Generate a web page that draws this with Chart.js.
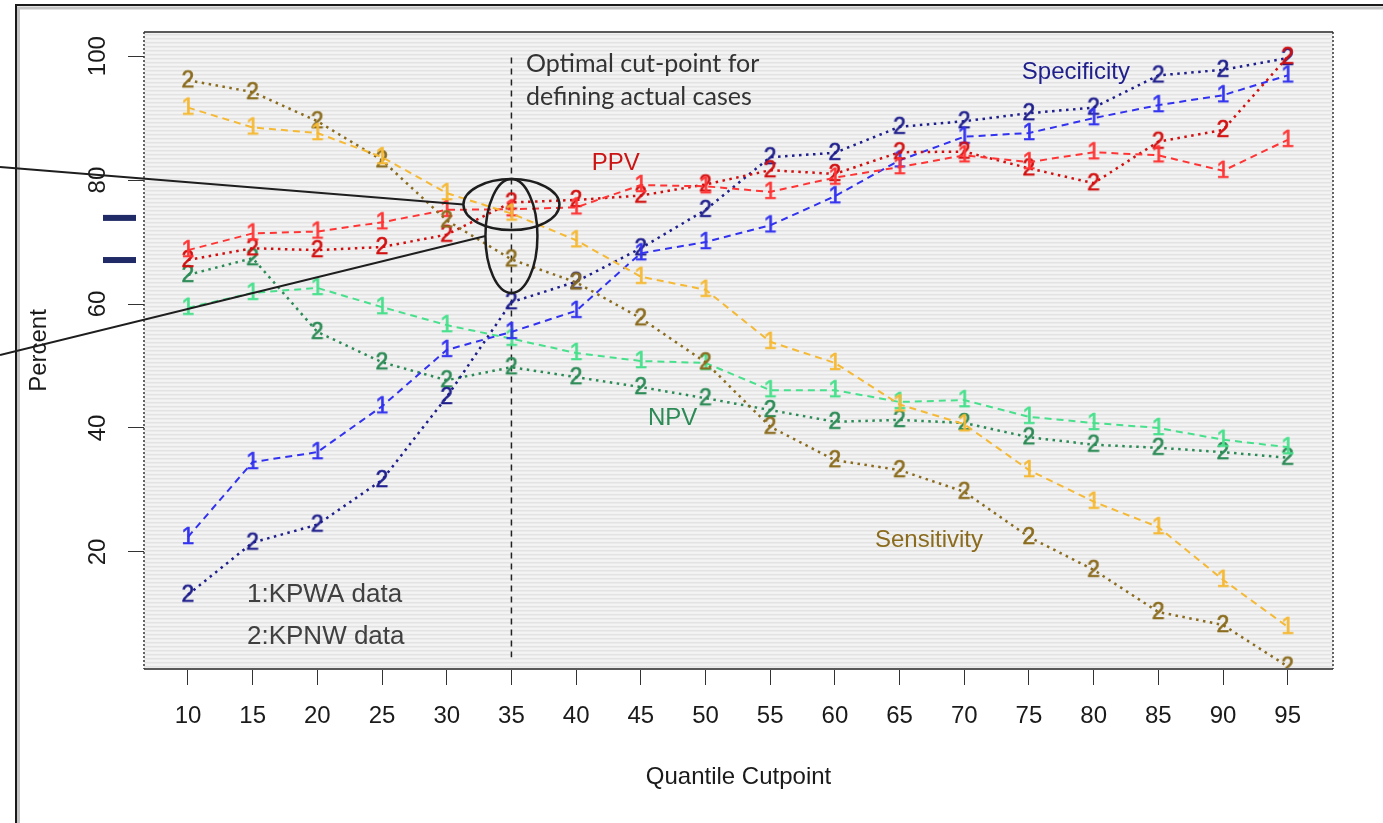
<!DOCTYPE html>
<html>
<head>
<meta charset="utf-8">
<title>Quantile Cutpoint</title>
<script src="https://cdn.jsdelivr.net/npm/chart.js@4.4.1/dist/chart.umd.min.js"></script>
<style>
    html, body { margin: 0; padding: 0; background: #fff; }
    #wrap { width: 1383px; height: 823px; }
</style>
</head>
<body>
<div id="wrap"><canvas id="cutChart" width="1383" height="823"></canvas></div>
<script>
// 컷포인트 (x축)
const cutpoints = [10, 15, 20, 25, 30, 35, 40, 45, 50, 55, 60, 65, 70, 75, 80, 85, 90, 95];
const yTicks = [20, 40, 60, 80, 100];

// 1: KPWA, 2: KPNW
const sens1 = [91.7, 88.5, 87.6, 83.7, 77.9, 74.6, 70.3, 64.4, 62.3, 53.9, 50.5, 43.8, 40.6, 33.2, 28.1, 24.0, 15.5, 7.9];
const sens2 = [96.1, 94.2, 89.5, 83.2, 73.5, 67.2, 63.5, 57.7, 50.6, 40.2, 34.8, 33.2, 29.7, 22.4, 17.1, 10.3, 8.2, 1.5];
const ppv1 = [68.7, 71.4, 71.7, 73.2, 75.2, 75.3, 75.6, 79.2, 79.0, 78.1, 80.4, 82.1, 84.0, 82.9, 84.5, 84.0, 81.5, 86.5];
const ppv2 = [67.1, 69.0, 68.7, 69.2, 71.2, 76.4, 76.8, 77.5, 79.3, 81.6, 81.0, 84.5, 84.6, 81.9, 79.5, 86.2, 88.1, 99.9];
const spec1 = [22.4, 34.5, 36.1, 43.5, 52.6, 55.5, 58.9, 68.2, 70.0, 72.7, 77.4, 83.2, 87.0, 87.6, 90.0, 92.1, 93.7, 96.9];
const spec2 = [13.1, 21.5, 24.4, 31.6, 45.0, 60.3, 63.6, 69.0, 75.2, 83.7, 84.4, 88.6, 89.5, 90.8, 91.7, 96.9, 97.8, 99.7];
const npv1 = [59.4, 61.8, 62.6, 59.5, 56.6, 54.4, 52.1, 50.8, 50.5, 46.1, 46.1, 44.2, 44.5, 41.8, 40.8, 40.0, 38.1, 36.9];
const npv2 = [64.7, 67.4, 55.5, 50.6, 47.7, 49.8, 48.2, 46.6, 44.8, 42.9, 41.0, 41.3, 40.8, 38.5, 37.3, 36.8, 36.1, 35.2];

const AXIS_FONT = '"Liberation Sans", Arial, sans-serif';

// 숫자 문자("1", "2")를 포인트 마커로 사용
function makeMarker(ch, color) {
    const c = document.createElement('canvas');
    c.width = 20;
    c.height = 26;
    const g = c.getContext('2d');
    g.font = '23px ' + AXIS_FONT;
    g.fillStyle = color;
    g.strokeStyle = color;
    g.lineWidth = 0.6;
    g.textAlign = 'center';
    g.textBaseline = 'middle';
    g.fillText(ch, 10, 14);
    g.strokeText(ch, 10, 14);
    return c;
}

function series(label, values, color, mark, dotted) {
    return {
        label: label,
        data: cutpoints.map((c, i) => ({ x: c, y: values[i] })),
        borderColor: color,
        backgroundColor: color,
        borderWidth: dotted ? 2.5 : 2,
        borderDash: dotted ? [2.5, 4.5] : [7, 5],
        fill: false,
        tension: 0,
        pointStyle: makeMarker(mark, color),
        pointRadius: 9,
        clip: 0
    };
}

// 배경 줄무늬 패턴
function stripePattern(ctx) {
    const p = document.createElement('canvas');
    p.width = 4;
    p.height = 4;
    const g = p.getContext('2d');
    const rows = ['#f4f4f4', '#f2f2f2', '#e3e3e3', '#ebebeb'];
    rows.forEach((col, i) => { g.fillStyle = col; g.fillRect(0, i, 4, 1); });
    return ctx.createPattern(p, 'repeat');
}

const labels = [
    { text: 'Specificity', x: 74.45, y: 97.4, color: '#1e1e8c', size: 24 },
    { text: 'PPV', x: 41.2, y: 82.7, color: '#cc1414', size: 24 },
    { text: 'NPV', x: 45.55, y: 41.6, color: '#2b8a55', size: 24 },
    { text: 'Sensitivity', x: 63.1, y: 21.9, color: '#8b6c1e', size: 24 },
    { text: '1:KPWA data', x: 14.56, y: 13.1, color: '#404040', size: 26 },
    { text: '2:KPNW data', x: 14.56, y: 6.3, color: '#404040', size: 26 }
];

const plotDecor = {
    id: 'plotDecor',
    beforeDraw(chart) {
        const { ctx, chartArea: a } = chart;
        ctx.save();
        ctx.fillStyle = '#fff';
        ctx.fillRect(0, 0, chart.width, chart.height);
        ctx.fillStyle = stripePattern(ctx);
        ctx.fillRect(a.left, a.top, a.right - a.left, a.bottom - a.top);

        // 바깥 테두리
        ctx.strokeStyle = '#c4c4c4';
        ctx.lineWidth = 3;
        ctx.beginPath();
        ctx.moveTo(chart.width, 8);
        ctx.lineTo(18.5, 8);
        ctx.lineTo(18.5, chart.height);
        ctx.stroke();
        ctx.strokeStyle = '#1a1a1a';
        ctx.lineWidth = 2;
        ctx.beginPath();
        ctx.moveTo(chart.width, 5);
        ctx.lineTo(16, 5);
        ctx.lineTo(16, chart.height);
        ctx.stroke();
        ctx.restore();
    },
    beforeDatasetsDraw(chart) {
        const { ctx, scales: { x, y } } = chart;
        // 최적 컷포인트 수직 점선
        ctx.save();
        ctx.strokeStyle = '#222';
        ctx.lineWidth = 1.5;
        ctx.setLineDash([6, 5]);
        ctx.beginPath();
        ctx.moveTo(x.getPixelForValue(35), y.getPixelForValue(99.8));
        ctx.lineTo(x.getPixelForValue(35), y.getPixelForValue(3));
        ctx.stroke();
        ctx.restore();
    },
    afterDraw(chart) {
        const { ctx, chartArea: a, scales: { x, y } } = chart;
        ctx.save();

        // 플롯 테두리
        ctx.strokeStyle = '#5a5a5a';
        ctx.lineWidth = 2;
        ctx.beginPath();
        ctx.moveTo(a.left, a.top); ctx.lineTo(a.right, a.top);
        ctx.moveTo(a.left, a.bottom); ctx.lineTo(a.right, a.bottom);
        ctx.stroke();
        ctx.strokeStyle = '#333';
        ctx.lineWidth = 1.5;
        ctx.setLineDash([2, 2]);
        ctx.beginPath();
        ctx.moveTo(a.left, a.top); ctx.lineTo(a.left, a.bottom);
        ctx.moveTo(a.right, a.top); ctx.lineTo(a.right, a.bottom);
        ctx.stroke();
        ctx.setLineDash([]);

        // 시리즈 이름 / 범례 텍스트
        ctx.textAlign = 'left';
        ctx.textBaseline = 'middle';
        labels.forEach(l => {
            ctx.font = l.size + 'px ' + AXIS_FONT;
            ctx.fillStyle = l.color;
            ctx.fillText(l.text, x.getPixelForValue(l.x), y.getPixelForValue(l.y));
        });

        ctx.font = '25px Lato, "Open Sans", sans-serif';
        ctx.fillStyle = '#333';
        ctx.textBaseline = 'alphabetic';
        ctx.fillText('Optimal cut-point for', x.getPixelForValue(36.12), y.getPixelForValue(97.4));
        ctx.fillText('defining actual cases', x.getPixelForValue(36.12), y.getPixelForValue(92.1));

        // 타원 표시 및 연결선
        const cx = x.getPixelForValue(35);
        const cyH = y.getPixelForValue(76.05);
        const cyV = y.getPixelForValue(70.97);
        ctx.strokeStyle = '#1e1e1e';
        ctx.lineWidth = 2.5;
        ctx.beginPath();
        ctx.ellipse(cx, cyH, 48, 25.5, 0, 0, Math.PI * 2);
        ctx.stroke();
        ctx.beginPath();
        ctx.ellipse(cx, cyV, 26, 57, 0, 0, Math.PI * 2);
        ctx.stroke();
        ctx.lineWidth = 2;
        ctx.beginPath();
        ctx.moveTo(0, 167);
        ctx.lineTo(cx - 48, cyH);
        ctx.moveTo(0, 355);
        ctx.lineTo(cx - 26, cyV);
        ctx.stroke();

        // 왼쪽 여백의 짧은 막대
        ctx.fillStyle = '#1f2a66';
        [73.9, 67.1].forEach(v => {
            ctx.fillRect(103, y.getPixelForValue(v) - 3, 33, 6);
        });
        ctx.restore();
    }
};

const tickFont = { family: AXIS_FONT, size: 24 };

const ctx = document.getElementById('cutChart').getContext('2d');
const cutChart = new Chart(ctx, {
    type: 'line',
    data: {
        datasets: [
            series('Sensitivity KPWA', sens1, '#f5b935', '1', false),
            series('Sensitivity KPNW', sens2, '#8b6c1e', '2', true),
            series('PPV KPWA', ppv1, '#ff3535', '1', false),
            series('PPV KPNW', ppv2, '#d20f0f', '2', true),
            series('Specificity KPWA', spec1, '#3232f0', '1', false),
            series('Specificity KPNW', spec2, '#1e1e8c', '2', true),
            series('NPV KPWA', npv1, '#48e08c', '1', false),
            series('NPV KPNW', npv2, '#2b8a55', '2', true)
        ]
    },
    options: {
        responsive: false,
        animation: false,
        events: [],
        layout: { padding: { left: 20, right: 50, top: 32, bottom: 20 } },
        plugins: {
            legend: { display: false },
            tooltip: { enabled: false }
        },
        scales: {
            x: {
                type: 'linear',
                min: 6.6,
                max: 98.5,
                afterBuildTicks: (s) => { s.ticks = cutpoints.map(v => ({ value: v })); },
                afterFit: (s) => { s.height = 134; },
                grid: { drawOnChartArea: false, drawTicks: true, tickLength: 16, color: '#333', lineWidth: 1 },
                border: { display: false },
                ticks: { font: tickFont, color: '#1a1a1a', padding: 17, maxRotation: 0, autoSkip: false },
                title: { display: true, text: 'Quantile Cutpoint', font: tickFont, color: '#1a1a1a', padding: { top: 0, bottom: 11 } }
            },
            y: {
                min: 1.1,
                max: 103.9,
                afterBuildTicks: (s) => { s.ticks = yTicks.map(v => ({ value: v })); },
                afterFit: (s) => { s.width = 124; },
                grid: { drawOnChartArea: false, drawTicks: true, tickLength: 16, color: '#333', lineWidth: 1 },
                border: { display: false },
                ticks: { font: tickFont, color: '#1a1a1a', padding: 10, minRotation: 90, maxRotation: 90, crossAlign: 'center' },
                title: { display: true, text: 'Percent', font: tickFont, color: '#1a1a1a', padding: { top: 5, bottom: 0 } }
            }
        }
    },
    plugins: [plotDecor]
});
</script>
</body>
</html>
